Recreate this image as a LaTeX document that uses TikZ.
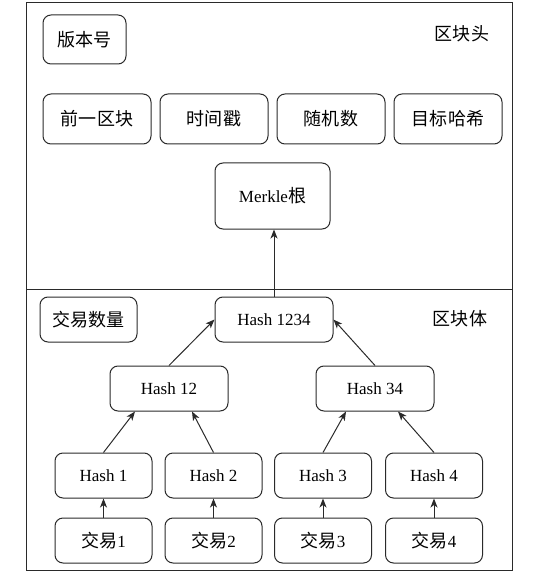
\documentclass[tikz,border=0pt]{standalone}
\usepackage{fontspec}
\setmainfont{Liberation Serif}
\newfontfamily\cjk[Scale=1.06]{Noto Sans CJK SC}
\usetikzlibrary{arrows.meta}
\definecolor{lc}{HTML}{2A2A2A}
\tikzset{
  box/.style={draw=lc, line width=1pt, rounded corners=8pt, inner sep=0pt, align=center,
    font=\fontsize{17}{20}\selectfont},
  arr/.style={draw=lc, line width=1pt, -{Stealth[length=9pt,width=7pt,inset=2.5pt]}},
  lbl/.style={inner sep=0pt, font=\fontsize{17}{20}\selectfont}
}
\begin{document}
\begin{tikzpicture}[x=1pt,y=-1pt]
\useasboundingbox (0,0) rectangle (532,577);
\draw[lc, line width=1pt] (26,3) rectangle (512,570);
\draw[lc, line width=1pt] (26,289) -- (512,289);
\node[lbl] (head) at (462,34) {\cjk 区块头};
\node[lbl] (body) at (460,319) {\cjk 区块体};
% header
\node[box, minimum width=83pt, minimum height=49pt] (ver) at (84.5,39.5) {\cjk 版本号};
\node[box, minimum width=108pt, minimum height=50pt] (prev) at (97,119) {\cjk 前一区块};
\node[box, minimum width=108pt, minimum height=50pt] (time) at (214,119) {\cjk 时间戳};
\node[box, minimum width=108pt, minimum height=50pt] (nonce) at (331,119) {\cjk 随机数};
\node[box, minimum width=108pt, minimum height=50pt] (target) at (448,119) {\cjk 目标哈希};
\node[box, minimum width=115pt, minimum height=66pt] (merkle) at (272.5,196) {Merkle{\cjk 根}};
% body
\node[box, minimum width=97pt, minimum height=45pt] (count) at (88.5,319.5) {\cjk 交易数量};
\node[box, minimum width=118pt, minimum height=45pt] (h1234) at (274,319.5) {Hash 1234};
\node[box, minimum width=118pt, minimum height=45pt] (h12) at (169,388.5) {Hash 12};
\node[box, minimum width=118pt, minimum height=45pt] (h34) at (375,388.5) {Hash 34};
\node[box, minimum width=97pt, minimum height=45pt] (h1) at (103.5,475.5) {Hash 1};
\node[box, minimum width=97pt, minimum height=45pt] (h2) at (213.5,475.5) {Hash 2};
\node[box, minimum width=97pt, minimum height=45pt] (h3) at (323,475.5) {Hash 3};
\node[box, minimum width=97pt, minimum height=45pt] (h4) at (434,475.5) {Hash 4};
\node[box, minimum width=97pt, minimum height=45pt] (t1) at (103.5,540.5) {{\cjk 交易}1};
\node[box, minimum width=97pt, minimum height=45pt] (t2) at (213.5,540.5) {{\cjk 交易}2};
\node[box, minimum width=97pt, minimum height=45pt] (t3) at (323,540.5) {{\cjk 交易}3};
\node[box, minimum width=97pt, minimum height=45pt] (t4) at (434,540.5) {{\cjk 交易}4};
% arrows
\draw[arr] (h1234.north) -- (h1234.north |- merkle.south);
\draw[arr] (h12.north) -- (h1234.west);
\draw[arr] (h34.north) -- (h1234.east);
\draw[arr] (h1.north) -- ([xshift=-34pt]h12.south);
\draw[arr] (h2.north) -- ([xshift=23pt]h12.south);
\draw[arr] (h3.north) -- ([xshift=-29pt]h34.south);
\draw[arr] (h4.north) -- ([xshift=23pt]h34.south);
\draw[arr] (t1.north) -- (h1.south);
\draw[arr] (t2.north) -- (h2.south);
\draw[arr] (t3.north) -- (h3.south);
\draw[arr] (t4.north) -- (h4.south);
\end{tikzpicture}
\end{document}
